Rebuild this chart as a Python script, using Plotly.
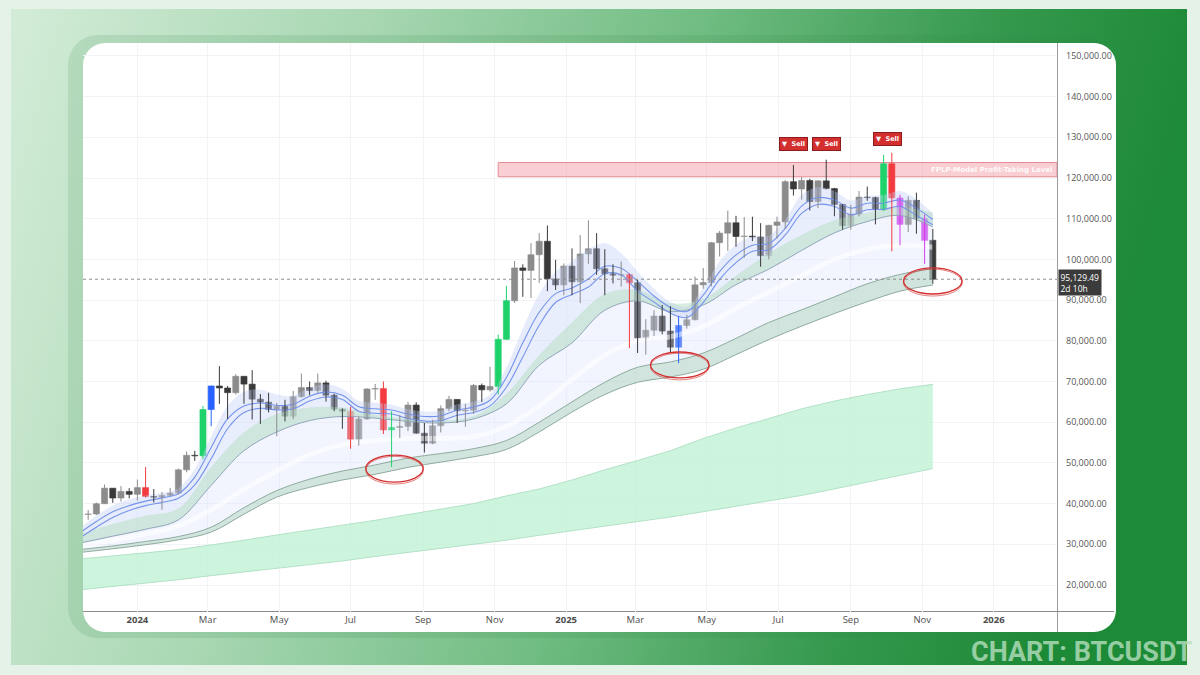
import base64
import plotly.graph_objects as go

# ---------------- candle data (weekly BTCUSDT) ----------------
dates = ["2023-11-13","2023-11-20","2023-11-27","2023-12-04","2023-12-11","2023-12-18","2023-12-25",
         "2024-01-01","2024-01-08","2024-01-15","2024-01-22","2024-01-29","2024-02-05","2024-02-12",
         "2024-02-19","2024-02-26","2024-03-04","2024-03-11","2024-03-18","2024-03-25","2024-04-01",
         "2024-04-08","2024-04-15","2024-04-22","2024-04-29","2024-05-06","2024-05-13","2024-05-20",
         "2024-05-27","2024-06-03","2024-06-10","2024-06-17","2024-06-24","2024-07-01","2024-07-08",
         "2024-07-15","2024-07-22","2024-07-29","2024-08-05","2024-08-12","2024-08-19","2024-08-26",
         "2024-09-02","2024-09-09","2024-09-16","2024-09-23","2024-09-30","2024-10-07","2024-10-14",
         "2024-10-21","2024-10-28","2024-11-04","2024-11-11","2024-11-18","2024-11-25","2024-12-02",
         "2024-12-09","2024-12-16","2024-12-23","2024-12-30","2025-01-06","2025-01-13","2025-01-20",
         "2025-01-27","2025-02-03","2025-02-10","2025-02-17","2025-02-24","2025-03-03","2025-03-10",
         "2025-03-17","2025-03-24","2025-03-31","2025-04-07","2025-04-14","2025-04-21","2025-04-28",
         "2025-05-05","2025-05-12","2025-05-19","2025-05-26","2025-06-02","2025-06-09","2025-06-16",
         "2025-06-23","2025-06-30","2025-07-07","2025-07-14","2025-07-21","2025-07-28","2025-08-04",
         "2025-08-11","2025-08-18","2025-08-25","2025-09-01","2025-09-08","2025-09-15","2025-09-22",
         "2025-09-29","2025-10-06","2025-10-13","2025-10-20","2025-10-27","2025-11-03","2025-11-10"]
opens = [37060,37360,37450,39970,43790,41370,42990,
         42280,43930,41730,41570,42030,42580,48300,
         51870,51730,63110,68900,68400,67250,71280,
         69360,65660,64940,63110,63880,61480,66270,
         68500,67770,69650,66640,63210,62680,55850,
         60800,68160,68250,58100,58700,58980,64220,
         57300,54840,59130,63330,65600,62820,62940,
         69030,67950,68780,80370,89850,97900,97300,
         101150,104460,95190,93720,98360,94510,101330,
         102620,97700,96460,96120,96260,94270,80700,
         82600,86080,82390,78430,83760,85170,93750,
         94300,104100,106450,109000,105630,105720,105500,
         100900,108370,109200,119100,117300,119400,114200,
         119300,117400,113500,108300,111100,115300,115200,
         112200,123500,115100,108600,114500,110000,104700]
highs = [37980,38420,40250,44700,43800,44300,43800,
         45900,48970,43580,42840,43880,48600,52820,
         52980,64000,69000,73780,68920,71770,71350,
         72800,66900,67230,64730,65500,67700,71950,
         70000,71950,70200,66990,63380,63800,61400,
         68400,69400,70000,62700,61800,65000,64900,
         59800,60600,64130,66500,65600,64480,69400,
         69500,73600,81500,93480,99600,98800,104000,
         106500,108350,99900,99000,102700,106000,109600,
         106460,102500,98800,99500,96500,95000,85300,
         87500,88800,88500,86100,86400,95800,97900,
         104300,107000,112000,110700,110400,110500,108900,
         108500,110500,119500,123200,120200,119800,119500,
         124500,117600,113600,113400,116800,117900,115400,
         125700,126200,115900,115500,116400,111000,107500]
lows = [35500,36000,37170,39900,40200,40500,41300,
        40750,41500,40280,38500,41800,42250,47700,
        50500,50900,59000,64500,60770,66800,64500,
        60660,59600,62400,56550,60200,60750,66080,
        66600,67200,65050,62700,58400,53500,54250,
        60600,65500,57100,49000,56100,57800,57200,
        52550,54600,57500,62700,59800,58900,62000,
        65000,67500,66800,80200,89300,90800,90500,
        94200,92200,92500,91200,91200,89260,98900,
        96200,91200,94100,93300,78200,77000,76600,
        81200,81600,77200,74500,83000,85000,92800,
        93400,100700,102100,103100,100400,104500,98200,
        100000,105100,107500,115700,114700,112000,112600,
        117200,110600,107300,107300,110600,114400,108600,
        111900,102000,103500,106700,106300,98900,94000]
closes = [37360,37450,39970,43790,41370,42990,42280,
          43930,41730,41570,42030,42580,48300,51870,
          51730,63110,68900,68400,67250,71280,69360,
          65660,64940,63110,63880,61480,66270,68500,
          67770,69650,66640,63210,62680,55850,60800,
          68160,68250,58100,58700,58980,64220,57300,
          54840,59130,63330,65600,62820,62940,69030,
          67950,68780,80370,89850,97900,97300,101150,
          104460,95190,93720,98360,94510,101330,102620,
          97700,96460,96120,96260,94270,80700,82600,
          86080,82390,78430,83760,85170,93750,94300,
          104100,106450,109000,105630,105720,105500,100900,
          108370,109200,119100,117300,119400,114200,119300,
          117400,113500,108300,111100,115300,115200,112200,
          123500,115100,108600,114500,110000,104700,95129.49]
# g = grey, d = dark, G = green, B = blue, R = red, M = magenta
kinds = ["g","g","g","g","d","g","d",
         "g","R","d","g","g","g","g",
         "d","G","B","d","d","g","d",
         "d","d","d","g","d","g","g",
         "d","g","d","d","d","R","g",
         "g","g","R","G","g","g","d",
         "d","g","g","g","d","g","g",
         "d","g","G","G","g","d","g",
         "g","d","d","g","d","g","g",
         "d","d","d","g","R","d","g",
         "g","d","d","B","g","g","g",
         "g","g","g","d","g","d","d",
         "g","g","g","d","g","d","g",
         "d","d","d","g","g","d","d",
         "G","R","M","g","d","M","d"]
kind_colors = {"g": "#8c8c8c", "d": "#3a3a3a", "G": "#1fd26b", "B": "#2962ff",
               "R": "#f23b40", "M": "#d53cea"}

# ---------------- indicator bands (4-week samples) ----------------
band4_dates = ["2023-11-13","2023-12-11","2024-01-08","2024-02-05","2024-03-04","2024-04-01",
               "2024-04-29","2024-05-27","2024-06-24","2024-07-22","2024-08-19","2024-09-16",
               "2024-10-14","2024-11-11","2024-12-09","2025-01-06","2025-02-03","2025-03-03",
               "2025-03-31","2025-04-28","2025-05-26","2025-06-23","2025-07-21","2025-08-18",
               "2025-09-15","2025-10-13","2025-11-10"]
mid_line = [30300,32000,33700,36000,44500,53000,57600,60400,61400,61000,60200,59800,60800,64500,
            74000,79500,87500,89800,87200,88800,93800,97600,102200,106500,109300,110800,108000]
green_top = [32500,35000,37000,38800,49000,57500,62000,63600,63600,61800,60800,60400,61500,67000,
             76500,84500,91500,92500,89200,90300,96000,101500,106000,109600,111400,112800,111500]
streak = [29500,31000,32500,34500,38500,43500,48000,52000,54500,55500,56000,56000,56500,59000,
          64000,70500,76500,80000,81000,83500,88000,92000,96000,100000,102500,103500,103000]
low_top = [28700,29600,30700,31900,34200,39000,43200,46000,48000,49500,51200,52300,53500,55500,
           60000,65000,69800,73500,74800,77000,80600,84500,87600,90800,94000,96300,97800]
low_bot = [28000,28900,29900,31100,33000,37400,41600,44000,45800,47200,48900,50200,51500,53300,
           57600,62500,66800,69800,71100,73000,76600,80300,83600,86700,89600,92200,93700]
mint_top = [26400,27100,27900,28700,29800,31000,32300,33500,34600,35900,37300,38600,40000,41900,
            43600,45800,48300,50600,53000,56000,58600,60900,63300,65200,66800,68200,69300]
mint_bot = [18800,19600,20500,21300,22300,23200,24100,25000,25900,27000,28000,29000,30000,31000,
            32200,33300,34400,35500,36700,38000,39300,40600,42000,43600,45300,47000,48600]

# ---------------- fast ribbon (2-week samples) ----------------
band2_dates = ["2023-11-13","2023-11-27","2023-12-11","2023-12-25","2024-01-08","2024-01-22",
               "2024-02-05","2024-02-19","2024-03-04","2024-03-18","2024-04-01","2024-04-15",
               "2024-04-29","2024-05-13","2024-05-27","2024-06-10","2024-06-24","2024-07-08",
               "2024-07-22","2024-08-05","2024-08-19","2024-09-02","2024-09-16","2024-09-30",
               "2024-10-14","2024-10-28","2024-11-11","2024-11-25","2024-12-09","2024-12-23",
               "2025-01-06","2025-01-20","2025-02-03","2025-02-17","2025-03-03","2025-03-17",
               "2025-03-31","2025-04-14","2025-04-28","2025-05-12","2025-05-26","2025-06-09",
               "2025-06-23","2025-07-07","2025-07-21","2025-08-04","2025-08-18","2025-09-01",
               "2025-09-15","2025-09-29","2025-10-13","2025-10-27","2025-11-10"]
fast1 = [32800,35600,38000,39500,40600,41400,42400,46500,53800,60800,64000,64700,64100,64400,
         66400,67400,66600,63800,63300,63000,62000,61400,61600,63000,63700,65400,71000,79500,
         87000,91600,93000,95200,98300,97800,94600,91000,88200,87200,91200,97000,101100,103500,
         103900,107600,113100,115200,114600,112600,113800,113800,114600,112600,109800]
fast2 = [31600,34200,36600,38300,39500,40300,41300,44600,51000,58400,62400,63400,63000,63300,
         65200,66200,65600,62700,62200,62000,60900,60300,60400,61700,62400,64000,68600,76000,
         83800,89400,91400,93200,96500,96200,92200,89500,86800,85700,89400,95100,99200,102000,
         102400,106000,111300,113500,113000,111000,112200,112300,113000,110800,108500]
halo_hi = [34000,37000,39500,41000,42000,42600,43800,48500,56500,64000,67500,68000,66800,66500,
           68500,69300,68200,65200,64800,64300,63200,62600,62800,64400,65000,66800,73500,83000,
           91500,97000,99500,102500,104000,101500,97000,92800,89600,88400,93000,99500,103600,
           105600,105800,109800,115800,117800,116800,114500,115600,115800,116800,114800,111300]

# ---------------- annotations data ----------------
zone_low, zone_high = 120300, 123800
zone_start = "2024-11-04"
zone_label = "FPLP-Model Profit-Taking Level"
sell_dates = ["2025-07-14", "2025-08-11", "2025-10-02"]
last_price = closes[-1]
price_label = "95,129.49<br>2d 10h"

x_tick_vals = ["2024-01-01","2024-03-01","2024-05-01","2024-07-01","2024-09-01","2024-11-01",
               "2025-01-01","2025-03-01","2025-05-01","2025-07-01","2025-09-01","2025-11-01","2026-01-01"]
x_tick_text = ["<b>2024</b>","Mar","May","Jul","Sep","Nov","<b>2025</b>","Mar","May","Jul","Sep","Nov","<b>2026</b>"]
y_tick_vals = [20000,30000,40000,50000,60000,70000,80000,90000,100000,110000,120000,130000,140000,150000]
y_tick_text = ["20,000.00","30,000.00","40,000.00","50,000.00","60,000.00","70,000.00","80,000.00",
               "90,000.00","100,000.00","110,000.00","120,000.00","130,000.00","140,000.00","150,000.00"]

# ---------------- figure ----------------
W, H = 1200, 675
L, T, R_, B = 83, 43, 1057, 612   # plot area in pixels
pw, ph = R_ - L, B - T

fig = go.Figure()

def pair(xl, yl, xu, yu, fill, lw_low=0, lc_low="rgba(0,0,0,0)", lw_up=0, lc_up="rgba(0,0,0,0)", shape="spline"):
    fig.add_trace(go.Scatter(x=xl, y=yl, mode="lines", line=dict(width=lw_low, color=lc_low, shape=shape),
                             hoverinfo="skip", showlegend=False))
    fig.add_trace(go.Scatter(x=xu, y=yu, mode="lines", line=dict(width=lw_up, color=lc_up, shape=shape),
                             fill="tonexty", fillcolor=fill, hoverinfo="skip", showlegend=False))

# mint long-term band
pair(band4_dates, mint_bot, band4_dates, mint_top, "rgba(192,243,214,0.8)",
     0.8, "#a6dabd", 0.8, "#a6dabd", shape="linear")
# broad lavender cloud
pair(band4_dates, low_bot, band2_dates, halo_hi, "rgba(214,224,251,0.32)")
# denser lavender under fast lines
pair(band4_dates, mid_line, band2_dates, fast2, "rgba(200,213,249,0.22)")
# white streak
fig.add_trace(go.Scatter(x=band4_dates, y=streak, mode="lines",
                         line=dict(width=5, color="rgba(255,255,255,0.55)", shape="spline"),
                         hoverinfo="skip", showlegend=False))
# green band
pair(band4_dates, mid_line, band4_dates, green_top, "rgba(180,222,192,0.5)")
# lower band
pair(band4_dates, low_bot, band4_dates, low_top, "rgba(175,214,190,0.5)",
     1, "#8fab9e", 1, "#8fab9e")
# mid line
fig.add_trace(go.Scatter(x=band4_dates, y=mid_line, mode="lines",
                         line=dict(width=1, color="#93a6bb", shape="spline"),
                         hoverinfo="skip", showlegend=False))
# halo around fast lines
pair(band2_dates, fast2, band2_dates, halo_hi, "rgba(160,182,242,0.14)")
for ys in (fast1, fast2):
    fig.add_trace(go.Scatter(x=band2_dates, y=ys, mode="lines",
                             line=dict(width=1.1, color="#7593ea", shape="spline"),
                             hoverinfo="skip", showlegend=False))

# candles: wicks per colour group, then bodies
for k, col in kind_colors.items():
    wx, wy = [], []
    for d, hi, lo, kk in zip(dates, highs, lows, kinds):
        if kk == k:
            wx += [d, d, None]
            wy += [lo, hi, None]
    if wx:
        fig.add_trace(go.Scatter(x=wx, y=wy, mode="lines", line=dict(width=1, color=col),
                                 hoverinfo="skip", showlegend=False))
body_cols = [kind_colors[k] for k in kinds]
fig.add_trace(go.Bar(x=dates, y=[c - o for o, c in zip(opens, closes)], base=opens,
                     width=5.2 * 86400000, marker=dict(color=body_cols,
                     line=dict(color=body_cols, width=0.6)), hoverinfo="skip", showlegend=False))

x_range = ["2023-11-15 14:00", "2026-02-24"]
y_range = [13366, 153170]

def py(p):  # pixel y -> paper
    return (B - p) / ph

def pxp(p):  # pixel x -> paper
    return (p - L) / pw

shapes = [
    dict(type="rect", xref="x", yref="y", x0=zone_start, x1=x_range[1], y0=zone_low, y1=zone_high,
         fillcolor="rgba(242,140,150,0.42)", line=dict(color="#e58a93", width=1), layer="between"),
    dict(type="line", xref="paper", yref="y", x0=0, x1=1, y0=last_price, y1=last_price,
         line=dict(color="#8e8e8e", width=1, dash="dot"), layer="above"),
]
ellipses = [("2024-07-14", "2024-09-01", 45300, 51900),
            ("2025-03-14", "2025-05-03", 70900, 77250),
            ("2025-10-16", "2025-12-05", 91500, 97900)]
for x0, x1, y0, y1 in ellipses:
    shapes.append(dict(type="circle", xref="x", yref="y", x0=x0, x1=x1, y0=y0, y1=y1,
                       line=dict(color="#d32f2f", width=1.3), layer="above"))
    shapes.append(dict(type="circle", xref="x", yref="y", x0=x0, x1=x1, y0=y0 - 500, y1=y1 - 300,
                       line=dict(color="rgba(211,47,47,0.6)", width=1), layer="above"))

annotations = []
sell_py = [144, 144, 139]
for d, p in zip(sell_dates, sell_py):
    annotations.append(dict(x=d, xref="x", y=py(p), yref="paper", text="<b>▼  Sell</b>", showarrow=False,
                            font=dict(size=6.5, color="white", family="DejaVu Sans"),
                            bgcolor="#d32f2f", bordercolor="#8e1c1c", borderwidth=1, borderpad=2,
                            xanchor="center", yanchor="middle"))
annotations.append(dict(x=1, xref="paper", xanchor="right", xshift=-3, y=(zone_low + zone_high) / 2,
                        yref="y", yanchor="middle", text="<b>" + zone_label + "</b>", showarrow=False,
                        font=dict(size=7, color="rgba(255,255,255,0.92)", family="DejaVu Sans")))
annotations.append(dict(x=1, xref="paper", xanchor="left", xshift=1, y=last_price, yref="y",
                        yanchor="middle", yshift=-3.5, text=price_label, showarrow=False, align="left",
                        font=dict(size=8.5, color="white", family="Open Sans"), bgcolor="#3b3b3b",
                        borderpad=1.5))
annotations.append(dict(x=pxp(1195), xref="paper", xanchor="right", y=py(652), yref="paper",
                        yanchor="middle", text="<b>CHART: BTCUSDT</b>", showarrow=False,
                        font=dict(size=27, color="rgba(185,224,192,0.78)",
                                  family="Liberation Sans Narrow, Roboto, sans-serif")))

svg = f"""<svg xmlns='http://www.w3.org/2000/svg' width='{W}' height='{H}' viewBox='0 0 {W} {H}'>
<defs>
<linearGradient id='g' x1='0' y1='0' x2='1' y2='0.15'>
<stop offset='0' stop-color='#d3ecd8'/>
<stop offset='0.3' stop-color='#a8d7b2'/>
<stop offset='0.58' stop-color='#70bc82'/>
<stop offset='0.82' stop-color='#36994e'/>
<stop offset='1' stop-color='#1d8a37'/>
</linearGradient>
</defs>
<rect width='{W}' height='{H}' fill='#e5f2e8'/>
<rect x='11' y='9' width='1176' height='656' fill='url(#g)'/>
<rect x='68' y='35' width='1042' height='603' rx='30' fill='#2f8a48' fill-opacity='0.14'/>
<rect x='83' y='43' width='1033' height='589' rx='22' fill='#ffffff'/>
<line x1='1057.5' y1='43' x2='1057.5' y2='632' stroke='#9c9c9c' stroke-width='1'/>
<line x1='83' y1='611.5' x2='1114' y2='611.5' stroke='#8a8a8a' stroke-width='1.2'/>
</svg>"""
src = "data:image/svg+xml;base64," + base64.b64encode(svg.encode()).decode()

fig.update_layout(
    width=W, height=H,
    margin=dict(l=L, r=W - R_, t=T, b=H - B),
    paper_bgcolor="#e5f2e8", plot_bgcolor="rgba(0,0,0,0)",
    font=dict(family="Open Sans", color="#4d4d4d"),
    showlegend=False, barmode="overlay", hovermode=False,
    images=[dict(source=src, xref="paper", yref="paper", x=-L / pw, y=B / ph, sizex=W / pw, sizey=H / ph,
                 xanchor="left", yanchor="top", sizing="stretch", layer="below")],
    shapes=shapes, annotations=annotations,
    xaxis=dict(type="date", range=x_range, tickvals=x_tick_vals, ticktext=x_tick_text,
               showgrid=True, gridcolor="#f1f3f6", gridwidth=1, zeroline=False, showline=False,
               ticks="", tickfont=dict(size=9.5, color="#4d4d4d"), automargin=False, fixedrange=True),
    yaxis=dict(side="right", range=y_range, tickvals=y_tick_vals, ticktext=y_tick_text,
               showgrid=True, gridcolor="#f1f3f6", gridwidth=1, zeroline=False, showline=False,
               ticks="", ticklabelstandoff=8, tickfont=dict(size=9, color="#555555"),
               automargin=False, fixedrange=True),
)

fig.write_html("out.html", config={"displayModeBar": False},
               post_script="document.body.style.margin='0px';document.body.style.overflow='hidden';")
